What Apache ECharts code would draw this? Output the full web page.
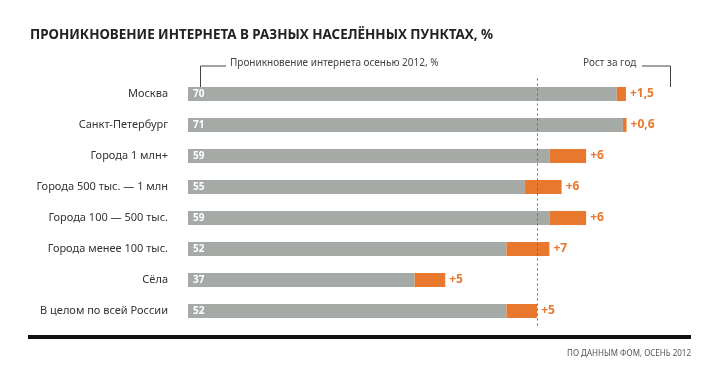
<!DOCTYPE html>
<html>
<head>
<meta charset="utf-8">
<script src="https://cdn.jsdelivr.net/npm/echarts@6/dist/echarts.min.js"></script>
<style>html,body{margin:0;padding:0;background:#fff;}#c{width:720px;height:392px;}</style>
</head>
<body>
<div id="c"></div>
<script>
const categories = ['Москва', 'Санкт-Петербург', 'Города 1 млн+', 'Города 500 тыс. — 1 млн', 'Города 100 — 500 тыс.', 'Города менее 100 тыс.', 'Сёла', 'В целом по всей России'];
const penetration2012 = [70, 71, 59, 55, 59, 52, 37, 52];
const yearGrowth = [1.5, 0.6, 6, 6, 6, 7, 5, 5];
const referenceLevel = 57;

const chart = echarts.init(document.getElementById('c'));
const font = '"Noto Sans", "Open Sans", sans-serif';
const fmt = v => String(v).replace('.', ',');

chart.setOption({
  animation: false,
  backgroundColor: '#fff',
  title: {
    text: 'ПРОНИКНОВЕНИЕ ИНТЕРНЕТА В РАЗНЫХ НАСЕЛЁННЫХ ПУНКТАХ, %',
    left: 25, top: 24,
    textStyle: {fontFamily: font, fontWeight: 'bold', fontSize: 13.4, color: '#222'}
  },
  grid: {left: 188, right: 42, top: 78.5, bottom: 65.5},
  xAxis: {type: 'value', min: 0, max: 80, show: false},
  yAxis: {
    type: 'category', data: categories, inverse: true,
    axisLine: {show: false}, axisTick: {show: false},
    axisLabel: {margin: 20, fontFamily: font, fontSize: 11, color: '#333'}
  },
  series: [
    {
      type: 'bar', stack: 's', data: penetration2012, barWidth: 14,
      itemStyle: {color: '#a5aaa7'},
      label: {show: true, position: 'insideLeft', distance: 5, formatter: p => fmt(p.value),
        color: '#fff', fontFamily: font, fontWeight: 'bold', fontSize: 10},
      markLine: {
        silent: true, symbol: 'none',
        lineStyle: {color: '#666', type: [2, 3], width: 1},
        label: {show: false},
        data: [{xAxis: referenceLevel}]
      },
      z: 2
    },
    {
      type: 'bar', stack: 's', data: yearGrowth, barWidth: 14,
      itemStyle: {color: '#e9782f'},
      label: {show: true, position: 'right', distance: 4, formatter: p => '+' + fmt(p.value),
        color: '#e9782f', fontFamily: font, fontWeight: 'bold', fontSize: 12},
      z: 3
    }
  ],
  graphic: [
    {type: 'text', left: 230, top: 58, style: {text: 'Проникновение интернета осенью 2012, %', font: '10px ' + font, fill: '#444'}},
    {type: 'polyline', shape: {points: [[226, 66], [200.5, 66], [200.5, 87]]}, style: {stroke: '#444', lineWidth: 1, fill: null}},
    {type: 'text', left: 583, top: 58, style: {text: 'Рост за год', font: '10px ' + font, fill: '#444'}},
    {type: 'polyline', shape: {points: [[642, 66], [670.5, 66], [670.5, 87]]}, style: {stroke: '#444', lineWidth: 1, fill: null}},
    {type: 'rect', shape: {x: 28, y: 335, width: 663, height: 4}, style: {fill: '#111'}},
    {type: 'text', right: 29, top: 350, style: {text: 'ПО ДАННЫМ ФОМ, ОСЕНЬ 2012', font: '8px ' + font, fill: '#555'}}
  ]
});
</script>
</body>
</html>
